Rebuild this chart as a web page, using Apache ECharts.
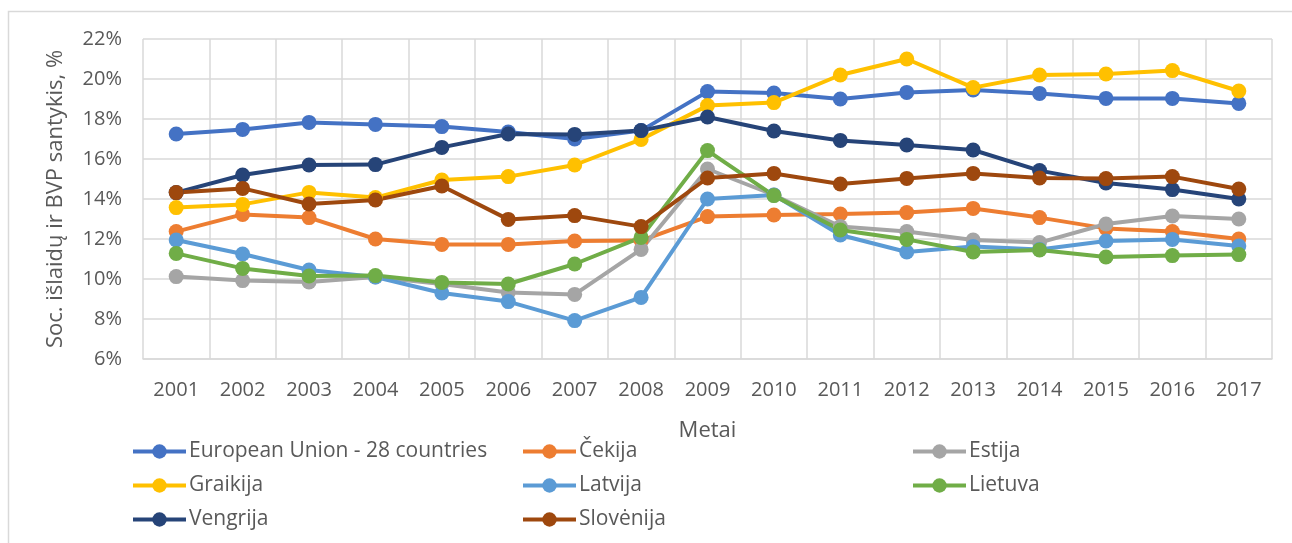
<!DOCTYPE html>
<html>
<head>
<meta charset="utf-8">
<script src="https://cdn.jsdelivr.net/npm/echarts@6/dist/echarts.min.js"></script>
<style>
html,body{margin:0;padding:0;background:#fff;}
#chart{width:1292px;height:543px;}
</style>
</head>
<body>
<div id="chart"></div>
<script>
const years = ['2001','2002','2003','2004','2005','2006','2007','2008','2009','2010','2011','2012','2013','2014','2015','2016','2017'];
const yTicks = [6, 8, 10, 12, 14, 16, 18, 20, 22];

const eu28      = [17.25, 17.48, 17.83, 17.73, 17.62, 17.35, 17.00, 17.42, 19.37, 19.30, 19.00, 19.33, 19.45, 19.28, 19.03, 19.03, 18.78];
const cekija    = [12.37, 13.23, 13.07, 12.00, 11.73, 11.73, 11.90, 11.92, 13.12, 13.20, 13.25, 13.32, 13.53, 13.07, 12.53, 12.37, 12.00];
const estija    = [10.12, 9.92, 9.85, 10.10, 9.75, 9.33, 9.23, 11.48, 15.50, 14.20, 12.62, 12.37, 11.95, 11.82, 12.75, 13.15, 13.00];
const graikija  = [13.57, 13.73, 14.33, 14.07, 14.95, 15.12, 15.70, 16.98, 18.67, 18.82, 20.20, 21.00, 19.57, 20.20, 20.25, 20.42, 19.40];
const latvija   = [11.95, 11.25, 10.45, 10.10, 9.30, 8.87, 7.92, 9.08, 14.00, 14.20, 12.20, 11.35, 11.63, 11.48, 11.90, 11.98, 11.65];
const lietuva   = [11.28, 10.53, 10.15, 10.17, 9.83, 9.75, 10.75, 12.08, 16.42, 14.17, 12.45, 11.98, 11.35, 11.45, 11.10, 11.17, 11.22];
const vengrija  = [14.32, 15.20, 15.70, 15.72, 16.58, 17.25, 17.23, 17.42, 18.10, 17.40, 16.93, 16.70, 16.45, 15.42, 14.80, 14.47, 14.00];
const slovenija = [14.32, 14.53, 13.75, 13.95, 14.65, 12.98, 13.17, 12.62, 15.05, 15.28, 14.75, 15.03, 15.28, 15.05, 15.02, 15.12, 14.50];

const names  = ['European Union - 28 countries', 'Čekija', 'Estija', 'Graikija', 'Latvija', 'Lietuva', 'Vengrija', 'Slovėnija'];
const values = [eu28, cekija, estija, graikija, latvija, lietuva, vengrija, slovenija];
const colors = ['#4472C4', '#ED7D31', '#A5A5A5', '#FFC000', '#5B9BD5', '#70AD47', '#264478', '#9E480E'];

const FONT = 'Open Sans';
const TXT = '#595959';
const GRIDC = '#d9d9d9';

const chart = echarts.init(document.getElementById('chart'), null, {renderer: 'canvas'});

function legendCol(left, data) {
  return {
    orient: 'vertical', left: left, top: 441,
    data: data, itemWidth: 53, itemHeight: 18, itemGap: 13,
    padding: 0,
    lineStyle: {width: 4},
    textStyle: {fontFamily: FONT, fontSize: 21, color: TXT, lineHeight: 20.5, padding: [0,0,0,-2]},
    selectedMode: false
  };
}

chart.setOption({
  animation: false,
  color: colors,
  graphic: [{
    type: 'rect', left: 6, top: 9, silent: true,
    shape: {width: 1310, height: 560},
    style: {fill: 'none', stroke: GRIDC, lineWidth: 1.5}
  }],
  grid: {left: 143, right: 20, top: 39, bottom: 184, containLabel: false},
  legend: [
    legendCol(131, [names[0], names[3], names[6]]),
    legendCol(521, [names[1], names[4], names[7]]),
    legendCol(911, [names[2], names[5]])
  ],
  xAxis: {
    type: 'category', data: years, boundaryGap: true,
    name: 'Metai', nameLocation: 'middle', nameGap: 61,
    nameTextStyle: {fontFamily: FONT, fontSize: 22, color: TXT},
    axisLine: {show: true, lineStyle: {color: GRIDC, width: 1.5}},
    axisTick: {show: false},
    axisLabel: {fontFamily: FONT, fontSize: 20, color: TXT, margin: 21},
    splitLine: {show: true, lineStyle: {color: GRIDC, width: 1.5}}
  },
  yAxis: {
    type: 'value', min: yTicks[0], max: yTicks[yTicks.length - 1], interval: 2,
    name: 'Soc. išlaidų ir BVP santykis, %', nameLocation: 'middle', nameGap: 76,
    nameTextStyle: {fontFamily: FONT, fontSize: 22, color: TXT},
    axisLine: {show: false}, axisTick: {show: false},
    axisLabel: {fontFamily: FONT, fontSize: 20, color: TXT, margin: 21, formatter: v => v + '%'},
    splitLine: {show: true, lineStyle: {color: GRIDC, width: 1.5}}
  },
  series: names.map((n, i) => ({
    name: n, type: 'line', data: values[i],
    symbol: 'circle', symbolSize: 15,
    lineStyle: {width: 4, color: colors[i]},
    itemStyle: {color: colors[i]},
    emphasis: {disabled: true}
  }))
});
</script>
</body>
</html>
